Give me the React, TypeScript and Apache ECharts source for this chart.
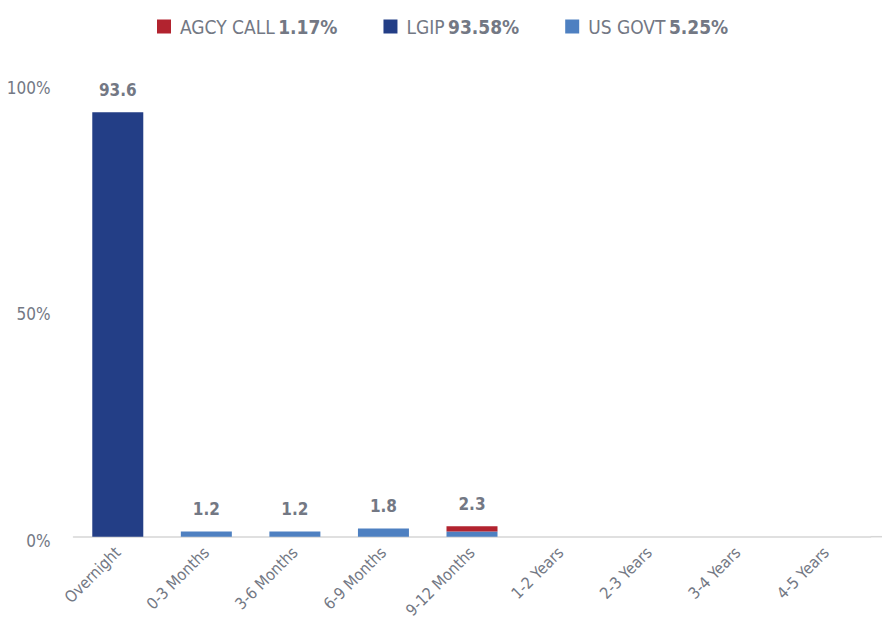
import React, { useEffect, useRef } from "react";
import * as echarts from "echarts";

const categories = ["Overnight", "0-3 Months", "3-6 Months", "6-9 Months", "9-12 Months", "1-2 Years", "2-3 Years", "3-4 Years", "4-5 Years"];
const usGovt = [0, 1.15, 1.15, 1.8, 1.15, 0, 0, 0, 0];
const lgip = [93.58, 0, 0, 0, 0, 0, 0, 0, 0];
const agcyCall = [0, 0, 0, 0, 1.17, 0, 0, 0, 0];
const legendPct: Record<string, string> = { "AGCY CALL": "1.17%", "LGIP": "93.58%", "US GOVT": "5.25%" };
const yTicks = [0, 50, 100];

const FONT = "'Liberation Sans Narrow', 'DejaVu Sans Condensed', sans-serif";
const GREY = "#737884";
const AXIS = "#d6d6d6";

export default function App() {
  const ref = useRef<HTMLDivElement>(null);
  useEffect(() => {
    if (!ref.current) return;
    const chart = echarts.init(ref.current, undefined, { renderer: "svg" });
    const totals = categories.map((_, i) => usGovt[i] + lgip[i] + agcyCall[i]);
    chart.setOption({
      animation: false,
      textStyle: { fontFamily: FONT },
      legend: {
        top: 12,
        left: 152,
        itemWidth: 14,
        itemHeight: 14,
        itemGap: 46,
        icon: "rect",
        data: ["AGCY CALL", "LGIP", "US GOVT"],
        formatter: (name: string) => `{n|${name}} {b|${legendPct[name]}}`,
        textStyle: {
          rich: {
            n: { fontFamily: FONT, fontSize: 19, color: GREY, padding: [0, 0, 0, 4] },
            b: { fontFamily: FONT, fontSize: 19, color: GREY, fontWeight: "bold" },
          },
        },
      },
      grid: { left: 73.5, right: 11.5, top: 83, bottom: 78, containLabel: false },
      xAxis: {
        type: "category",
        data: categories,
        axisLine: { show: true, lineStyle: { color: AXIS, width: 1.5 } },
        axisTick: { show: false },
        axisLabel: { rotate: 45, color: GREY, fontSize: 16, fontFamily: FONT, margin: 13, interval: 0 },
      },
      yAxis: {
        type: "value",
        min: 0,
        max: 100,
        interval: 50,
        splitLine: { show: false },
        axisLine: { show: false },
        axisTick: { show: false },
        axisLabel: {
          color: GREY,
          fontSize: 17,
          fontFamily: FONT,
          margin: 23,
          verticalAlign: "top",
          padding: [-4, 0, 0, 0],
          formatter: (v: number) => (yTicks.includes(v) ? `${v}%` : ""),
        },
      },
      series: [
        { name: "US GOVT", type: "bar", stack: "t", data: usGovt, barWidth: 51, itemStyle: { color: "#4e80c1" } },
        { name: "LGIP", type: "bar", stack: "t", data: lgip, itemStyle: { color: "#233e86" } },
        { name: "AGCY CALL", type: "bar", stack: "t", data: agcyCall, itemStyle: { color: "#b2232f" } },
        {
          name: "total",
          type: "bar",
          stack: "t",
          data: totals.map((t) => (t > 0 ? 0 : "-")),
          itemStyle: { color: "transparent" },
          label: {
            show: true,
            position: "top",
            distance: 14,
            color: GREY,
            fontSize: 17,
            fontWeight: "bold",
            fontFamily: FONT,
            formatter: (p: any) => (totals[p.dataIndex] + 1e-9).toFixed(1),
          },
        },
      ],
    });
    const zeroY = chart.convertToPixel({ yAxisIndex: 0 }, 0) as number;
    const w = chart.getWidth();
    chart.setOption({
      graphic: [
        {
          type: "line",
          shape: { x1: w - 11.5, y1: zeroY, x2: w, y2: zeroY },
          style: { stroke: AXIS, lineWidth: 1.5 },
          silent: true,
        },
      ],
    });
    return () => chart.dispose();
  }, []);
  return (
    <div
      ref={ref}
      style={{ position: "fixed", left: 0, top: 0, width: 882, height: 621, background: "#fff" }}
    />
  );
}
